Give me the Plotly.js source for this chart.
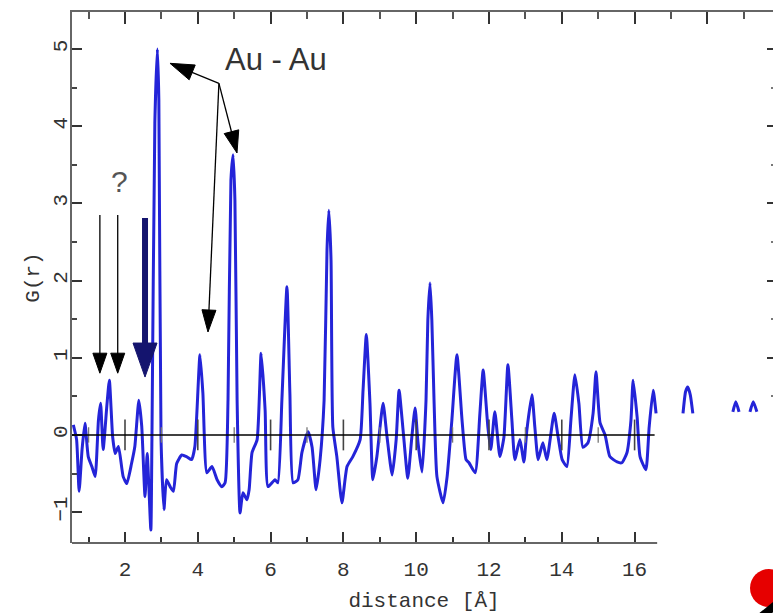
<!DOCTYPE html>
<html>
<head>
<meta charset="utf-8">
<script src="https://cdn.plot.ly/plotly-3.0.1.min.js"></script>
<style>
html,body{margin:0;padding:0;overflow:hidden;background:#fff;}
#plot{width:780px;height:613px;}
</style>
</head>
<body>
<div id="plot"></div>
<script>
// ---- data ----
const distance = [0.58,0.67,0.74,0.82,0.90,0.99,1.09,1.18,1.27,1.33,1.40,1.50,1.57,1.66,1.73,1.82,1.95,2.05,2.18,2.27,2.38,2.46,2.55,2.61,2.71,2.74,2.82,2.89,2.93,2.99,3.07,3.14,3.24,3.33,3.42,3.56,3.69,3.83,3.92,
4.06,4.14,4.25,4.39,4.53,4.66,4.75,4.83,4.91,4.97,5.02,5.08,5.16,5.24,5.35,5.41,5.49,5.63,5.74,5.85,5.93,6.12,6.20,6.31,6.45,6.53,6.62,6.75,6.86,7.03,7.14,7.25,7.36,7.47,7.55,7.60,7.66,7.71,7.82,7.96,
8.10,8.26,8.46,8.54,8.63,8.73,8.81,8.92,9.09,9.20,9.34,9.45,9.53,9.64,9.77,9.88,9.97,10.05,10.16,10.27,10.32,10.38,10.43,10.49,10.57,10.74,10.85,10.98,11.12,11.26,11.37,11.45,11.62,11.75,11.84,11.97,
12.05,12.16,12.30,12.41,12.52,12.63,12.71,12.85,12.96,13.04,13.18,13.26,13.35,13.48,13.59,13.79,13.90,14.01,14.14,14.25,14.36,14.47,14.58,14.72,14.86,14.94,15.05,15.19,15.32,15.52,15.65,15.79,15.90,15.96,
16.07,16.15,16.31,16.40,16.51,16.59,
null,17.33,17.40,17.46,17.53,17.60,
null,18.70,18.78,18.87,
null,19.17,19.26,19.36];
const Gr = [0.13,-0.06,-0.73,-0.19,0.15,-0.28,-0.41,-0.54,0.19,0.41,-0.19,0.37,0.71,-0.02,-0.24,-0.15,-0.54,-0.63,-0.37,-0.15,0.45,0.11,-0.80,-0.24,-1.23,-0.06,4.04,5.00,4.34,-0.06,-0.97,-0.58,-0.67,-0.73,-0.37,-0.26,-0.28,-0.32,-0.15,
1.04,0.54,-0.49,-0.41,-0.58,-0.67,-0.62,0.45,3.30,3.63,3.04,0.45,-1.01,-0.75,-0.84,-0.71,-0.23,-0.06,1.06,0.32,-0.67,-0.58,-0.62,0.45,1.92,0.54,-0.62,-0.58,-0.23,0.04,-0.16,-0.71,-0.32,0.45,2.40,2.91,2.27,0.10,-0.28,-0.88,
-0.41,-0.28,-0.06,0.58,1.30,0.41,-0.58,-0.28,0.41,-0.03,-0.52,-0.06,0.58,0.06,-0.56,-0.03,0.35,-0.10,-0.48,0.45,1.49,1.97,1.49,0.45,-0.54,-0.88,-0.54,0.19,1.04,0.19,-0.32,-0.36,-0.49,0.28,0.84,0.10,
-0.19,0.30,-0.28,-0.03,0.91,0.19,-0.32,-0.06,-0.35,0.06,0.52,0.10,-0.32,-0.10,-0.32,0.28,-0.03,-0.32,-0.41,0.19,0.78,0.41,-0.16,-0.10,0.28,0.82,0.16,0.00,-0.28,-0.35,-0.36,-0.23,0.19,0.71,
0.23,-0.28,-0.45,0.10,0.58,0.28,
null,0.28,0.56,0.62,0.52,0.28,
null,0.30,0.43,0.30,
null,0.30,0.43,0.30];

const xTickLabels = [2,4,6,8,10,12,14,16];
const xMinorTicks = [1,3,5,7,9,11,13,15];
const topMajorTicks = [2,4,6,8,10,12,14,16,18];
const topMinorTicks = [1,3,5,7,9,11,13,15,17,19];
const yTicks = [-1,0,1,2,3,4,5];
const yMinorTicks = [-0.5,0.5,1.5,2.5,3.5,4.5];
const rightTicks = [1,2,3,4,5];
const rightMinorTicks = [0.5,1.5,2.5,3.5,4.5];
const zeroMajor = [2,4,6,8,10,12,14,16];
const zeroMinor = [1,3,5,7,9,11,13,15];

// arrows: [x0, y0, x1(tip), y1(tip)]
const thinArrows = [[1.31,2.85,1.31,0.80],[1.80,2.85,1.80,0.80]];
const thickArrow = [2.55,2.81,2.55,0.75];
const auJunction = [4.58,4.556];
const auTips = [[3.236,4.815,24,16],[5.077,3.653,22,15],[4.28,1.334,22,14]];

// ---- layout geometry ----
const W = 780, H = 613;
const M = {l:72, r:4, t:12, b:70};
const xr = [0.544, 19.885];
const yr = [-1.40, 5.48];
const pxX = (W - M.l - M.r) / (xr[1]-xr[0]);
const pxY = (H - M.t - M.b) / (yr[1]-yr[0]);

const FONT = 'Liberation Mono, Courier New, monospace';
const shapes = [];

function arrowShapes(x0,y0,x1,y1,color,lw,L,Wd){
  const dxp = (x1-x0)*pxX, dyp = (y1-y0)*pxY;
  const len = Math.hypot(dxp,dyp);
  const ux = dxp/len, uy = dyp/len;
  const px = -uy, py = ux;
  const bx = x1 - ux*L*0.8/pxX, by = y1 - uy*L*0.8/pxY;
  shapes.push({type:'line', xref:'x', yref:'y', x0:x0, y0:y0, x1:bx, y1:by, line:{color:color, width:lw}});
  const p1 = [-ux*L + px*Wd/2, -uy*L + py*Wd/2];
  const p2 = [-ux*L - px*Wd/2, -uy*L - py*Wd/2];
  shapes.push({type:'path', xref:'x', yref:'y', xsizemode:'pixel', ysizemode:'pixel',
    xanchor:x1, yanchor:y1,
    path:`M 0 0 L ${p1[0].toFixed(2)} ${p1[1].toFixed(2)} L ${p2[0].toFixed(2)} ${p2[1].toFixed(2)} Z`,
    fillcolor:color, line:{color:color, width:1}});
}

// bottom axis line (partial) and zero line
shapes.push({type:'line', xref:'x', yref:'paper', x0:xr[0], x1:16.62, y0:0, y1:0, line:{color:'#666', width:2}});
shapes.push({type:'line', xref:'x', yref:'y', x0:xr[0], x1:16.55, y0:0, y1:0, line:{color:'#000', width:1.5}});

thinArrows.forEach(a => arrowShapes(a[0],a[1],a[2],a[3],'#000',1.3,20,14));
arrowShapes(thickArrow[0],thickArrow[1],thickArrow[2],thickArrow[3],'#14146e',6,34,24);
auTips.forEach(t => arrowShapes(auJunction[0],auJunction[1],t[0],t[1],'#000',1.3,t[2],t[3]));

// decorative fragment at bottom right (red atom + bond)
const px2paperX = p => (p - M.l)/(W - M.l - M.r);
const px2paperY = p => (H - M.b - p)/(H - M.t - M.b);
shapes.push({type:'circle', xref:'paper', yref:'paper', x0:px2paperX(750), x1:px2paperX(788), y0:px2paperY(607), y1:px2paperY(569), fillcolor:'#e60000', line:{width:0}});
shapes.push({type:'line', xref:'paper', yref:'paper', x0:px2paperX(757), y0:px2paperY(620), x1:px2paperX(782), y1:px2paperY(600), line:{color:'#000', width:8}});

const traces = [
  {x: distance, y: Gr, type:'scatter', mode:'lines', line:{color:'#2424d8', width:3, shape:'spline', smoothing:0.5}, connectgaps:false, hoverinfo:'skip'},
  {x: zeroMajor, y: zeroMajor.map(()=>0), type:'scatter', mode:'markers', marker:{symbol:'line-ns', size:22, line:{color:'#444', width:1.6}}, hoverinfo:'skip'},
  {x: zeroMinor, y: zeroMinor.map(()=>0), type:'scatter', mode:'markers', marker:{symbol:'line-ns', size:11, line:{color:'#777', width:1.3}}, hoverinfo:'skip'},
  {x: [xr[0]], y: [yr[0]], xaxis:'x2', yaxis:'y2', type:'scatter', mode:'markers', marker:{opacity:0}, hoverinfo:'skip'}
];

const layout = {
  width: W, height: H,
  margin: M,
  paper_bgcolor:'#fff', plot_bgcolor:'#fff',
  showlegend:false,
  font:{family:FONT, color:'#333', size:21},
  xaxis:{
    range: xr, showgrid:false, zeroline:false, showline:false,
    tickmode:'array', tickvals: xTickLabels, ticks:'inside', ticklen:11, tickwidth:2, tickcolor:'#333',
    tickfont:{family:FONT, size:21, color:'#333'},
    ticklabelstandoff: 11,
    minor:{tickmode:'array', tickvals:xMinorTicks, ticks:'inside', ticklen:6, tickwidth:2, tickcolor:'#333', showgrid:false},
    title:{text:'distance [Å]', font:{family:FONT, size:21, color:'#333'}, standoff:12}
  },
  xaxis2:{
    overlaying:'x', side:'top', anchor:'y', range: xr, showgrid:false, zeroline:false,
    showline:true, linecolor:'#666', linewidth:2, showticklabels:false,
    tickmode:'array', tickvals: topMajorTicks, ticks:'inside', ticklen:12, tickwidth:2, tickcolor:'#333',
    minor:{tickmode:'array', tickvals:topMinorTicks, ticks:'inside', ticklen:7, tickwidth:2, tickcolor:'#555', showgrid:false}
  },
  yaxis:{
    range: yr, showgrid:false, zeroline:false, showline:true, linecolor:'#666', linewidth:2,
    tickmode:'array', tickvals: yTicks, ticks:'inside', ticklen:10, tickwidth:2, tickcolor:'#333',
    tickangle:-90, tickfont:{family:FONT, size:21, color:'#333'},
    ticklabelstandoff: -5,
    minor:{tickmode:'array', tickvals:yMinorTicks, ticks:'inside', ticklen:5, tickwidth:2, tickcolor:'#444', showgrid:false},
    title:{text:'G(r)', font:{family:FONT, size:21, color:'#333'}, standoff:4}
  },
  yaxis2:{
    overlaying:'y', side:'right', anchor:'x', range: yr, showgrid:false, zeroline:false, showline:false,
    showticklabels:false, tickmode:'array', tickvals: rightTicks, ticks:'inside', ticklen:9, tickwidth:2, tickcolor:'#333',
    minor:{tickmode:'array', tickvals:rightMinorTicks, ticks:'inside', ticklen:5, tickwidth:2, tickcolor:'#777', showgrid:false}
  },
  shapes: shapes,
  annotations:[
    {x:6.15, y:4.86, xref:'x', yref:'y', text:'Au - Au', showarrow:false, font:{family:'Liberation Sans, Arial, sans-serif', size:31, color:'#333'}},
    {x:1.84, y:3.29, xref:'x', yref:'y', text:'?', showarrow:false, font:{family:'Liberation Sans, Arial, sans-serif', size:30, color:'#555'}}
  ]
};

Plotly.newPlot('plot', traces, layout, {staticPlot:true, displayModeBar:false});
</script>
</body>
</html>
